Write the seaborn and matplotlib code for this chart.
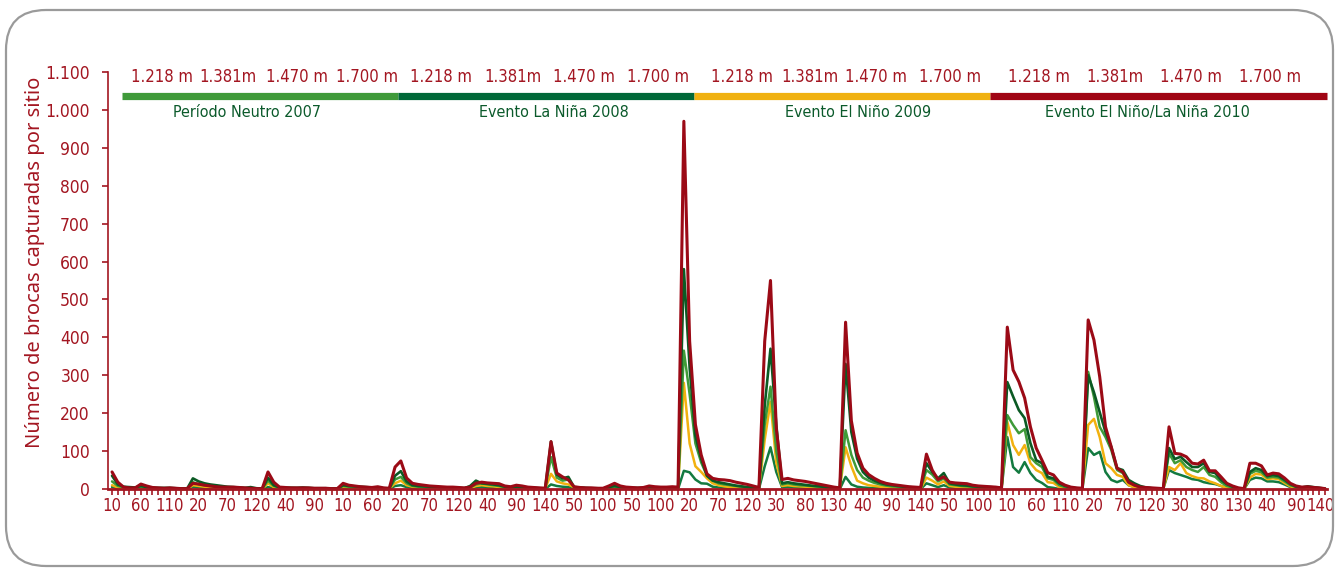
import numpy as np
import pandas as pd
import seaborn as sns
import matplotlib.pyplot as plt
from matplotlib.patches import FancyBboxPatch
from matplotlib.transforms import ScaledTranslation


# puntos por segmento (4 periodos x 4 altitudes), etiquetas 10, 20, ... hasta el ultimo valor
seg_ultimo = [140, 130, 130, 90, 130, 140, 100, 130, 140, 140, 140, 140, 140, 140, 140, 140]

altitudes = ['1.218 m', '1.381m', '1.470 m', '1.700 m']
periodos = ['Período Neutro 2007', 'Evento La Niña 2008', 'Evento El Niño 2009',
            'Evento El Niño/La Niña 2010']

roja = [
    45, 18, 5, 3, 3, 13, 8, 4, 3, 2, 3, 2, 1, 1,
    15, 13, 10, 8, 6, 5, 5, 5, 4, 3, 2, 1, 1,
    45, 18, 5, 4, 3, 3, 3, 3, 2, 2, 2, 1, 1,
    15, 10, 8, 6, 5, 4, 6, 3, 2,
    58, 74, 29, 15, 12, 10, 8, 7, 6, 5, 5, 4, 3,
    5, 15, 18, 16, 15, 14, 8, 6, 10, 8, 5, 4, 3, 2,
    125, 42, 32, 24, 6, 4, 3, 3, 2, 2,
    8, 15, 8, 5, 4, 3, 4, 8, 6, 5, 5, 6, 5,
    970, 390, 170, 90, 40, 28, 25, 24, 22, 18, 15, 12, 8, 4,
    390, 550, 160, 25, 28, 24, 22, 20, 17, 14, 11, 8, 5, 3,
    440, 180, 95, 55, 38, 28, 20, 15, 12, 10, 8, 6, 5, 4,
    92, 50, 25, 32, 18, 16, 15, 14, 10, 8, 7, 6, 5, 3,
    427, 314, 283, 240, 164, 108, 76, 43, 37, 18, 10, 5, 3, 2,
    446, 393, 296, 164, 111, 55, 45, 18, 10, 5, 4, 3, 2, 1,
    164, 94, 92, 85, 68, 66, 76, 48, 48, 32, 15, 8, 3, 1,
    68, 68, 61, 37, 42, 40, 29, 15, 8, 5, 6, 4, 3, 1,
]

verde_oscuro = [
    35, 12, 6, 5, 4, 8, 5, 3, 3, 3, 3, 2, 1, 1,
    28, 20, 15, 12, 10, 8, 6, 5, 4, 3, 5, 2, 1,
    30, 10, 4, 3, 3, 3, 4, 3, 2, 2, 2, 1, 1,
    10, 8, 7, 6, 5, 4, 4, 2, 1,
    35, 47, 20, 10, 8, 7, 6, 5, 4, 4, 3, 3, 2,
    8, 22, 15, 14, 12, 10, 6, 5, 6, 5, 4, 3, 2, 2,
    125, 38, 28, 32, 5, 4, 3, 2, 2, 1,
    5, 8, 5, 4, 3, 3, 3, 5, 4, 3, 3, 4, 3,
    580, 320, 140, 80, 35, 22, 18, 15, 12, 9, 7, 5, 3, 2,
    220, 370, 170, 15, 18, 15, 13, 11, 9, 8, 6, 4, 3, 2,
    330, 150, 80, 45, 30, 22, 16, 12, 10, 8, 6, 5, 4, 3,
    68, 45, 28, 42, 15, 12, 10, 9, 7, 6, 5, 5, 4, 2,
    282, 244, 208, 187, 121, 76, 68, 32, 28, 15, 8, 4, 2, 1,
    300, 255, 203, 150, 111, 55, 50, 24, 15, 8, 4, 2, 1, 1,
    108, 79, 85, 71, 58, 58, 68, 45, 42, 24, 13, 6, 2, 1,
    45, 55, 50, 34, 37, 34, 24, 13, 6, 4, 7, 5, 3, 1,
]

verde_claro = [
    20, 8, 5, 4, 3, 5, 4, 3, 2, 2, 2, 1, 1, 1,
    18, 12, 10, 8, 6, 5, 4, 3, 3, 2, 2, 1, 1,
    22, 8, 4, 3, 3, 2, 2, 2, 2, 1, 1, 1, 1,
    8, 6, 5, 4, 4, 3, 3, 2, 1,
    25, 32, 15, 8, 6, 5, 4, 4, 3, 3, 2, 2, 2,
    4, 12, 15, 12, 10, 8, 5, 4, 4, 4, 3, 2, 2, 1,
    84, 30, 22, 25, 5, 3, 2, 2, 1, 1,
    3, 6, 4, 3, 2, 2, 2, 4, 3, 2, 2, 3, 2,
    365, 250, 120, 70, 35, 22, 15, 12, 10, 8, 6, 4, 3, 2,
    170, 270, 100, 12, 15, 12, 10, 9, 8, 6, 5, 3, 2, 1,
    155, 90, 50, 30, 22, 16, 12, 9, 7, 6, 5, 4, 3, 2,
    50, 38, 20, 28, 12, 10, 8, 7, 6, 5, 4, 4, 3, 2,
    195, 169, 147, 158, 84, 68, 58, 28, 24, 10, 5, 3, 1, 0,
    309, 243, 164, 137, 103, 50, 42, 18, 10, 5, 3, 2, 1, 0,
    94, 68, 76, 58, 50, 45, 58, 37, 32, 18, 8, 4, 2, 0,
    40, 48, 44, 30, 32, 30, 20, 10, 5, 3, 5, 4, 2, 1,
]

amarilla = [
    10, 4, 2, 2, 1, 2, 2, 1, 1, 1, 1, 1, 0, 0,
    10, 8, 6, 5, 4, 3, 3, 2, 2, 1, 1, 1, 0,
    15, 5, 2, 2, 1, 1, 1, 1, 1, 1, 0, 0, 0,
    5, 4, 3, 3, 2, 2, 2, 1, 1,
    15, 22, 10, 6, 4, 3, 3, 2, 2, 2, 1, 1, 1,
    2, 8, 10, 8, 7, 5, 3, 2, 2, 2, 2, 1, 1, 1,
    40, 20, 15, 12, 4, 2, 1, 1, 1, 0,
    2, 4, 3, 2, 1, 1, 1, 2, 2, 1, 1, 2, 1,
    280, 120, 60, 45, 28, 15, 10, 7, 5, 4, 3, 2, 1, 1,
    130, 230, 70, 8, 10, 8, 7, 6, 5, 4, 3, 2, 1, 1,
    110, 60, 22, 15, 10, 8, 6, 5, 4, 3, 2, 2, 1, 1,
    30, 22, 12, 20, 8, 6, 5, 4, 3, 2, 2, 2, 1, 1,
    177, 116, 90, 116, 68, 50, 42, 18, 16, 5, 2, 1, 0, 0,
    169, 185, 137, 68, 55, 37, 32, 10, 5, 3, 2, 1, 0, 0,
    58, 50, 68, 42, 34, 29, 28, 20, 15, 8, 3, 1, 0, 0,
    30, 40, 38, 26, 28, 26, 16, 7, 3, 2, 3, 2, 1, 0,
]

verde = [
    5, 2, 1, 1, 1, 1, 1, 1, 0, 0, 0, 0, 0, 0,
    5, 4, 3, 2, 2, 1, 1, 1, 1, 0, 0, 0, 0,
    5, 2, 1, 1, 0, 0, 0, 0, 0, 0, 0, 0, 0,
    2, 2, 1, 1, 1, 1, 1, 0, 0,
    8, 10, 5, 3, 2, 2, 1, 1, 1, 1, 1, 0, 0,
    1, 4, 5, 4, 3, 2, 1, 1, 1, 1, 1, 0, 0, 0,
    12, 8, 6, 5, 2, 1, 1, 0, 0, 0,
    1, 2, 1, 1, 0, 0, 0, 1, 1, 0, 0, 1, 0,
    48, 44, 25, 15, 14, 6, 4, 3, 2, 1, 1, 0, 0, 0,
    60, 110, 45, 5, 6, 5, 4, 3, 3, 2, 2, 1, 1, 0,
    32, 12, 6, 4, 3, 2, 2, 1, 1, 1, 0, 0, 0, 0,
    15, 10, 5, 10, 4, 3, 2, 2, 1, 1, 1, 0, 0, 0,
    137, 58, 43, 71, 42, 24, 16, 5, 3, 0, 0, 0, 0, 0,
    108, 90, 98, 45, 24, 18, 24, 10, 5, 3, 1, 0, 0, 0,
    50, 42, 37, 32, 26, 24, 18, 15, 13, 8, 3, 0, 0, 0,
    24, 30, 28, 20, 20, 18, 12, 5, 2, 2, 5, 3, 1, 0,
]

etiquetas_x = []
for ult in seg_ultimo:
    etiquetas_x += [str(v) for v in range(10, ult + 1, 10)]
n = len(etiquetas_x)
pos = np.arange(n)

rojo_txt = '#a31621'
verde_txt = '#0b5a2b'

sns.set_style('white')
plt.rcParams['font.family'] = ['DejaVu Sans']
plt.rcParams['font.stretch'] = 'condensed'

fig = plt.figure(figsize=(13.35, 5.68), dpi=100)
ax = fig.add_axes([108 / 1335, 1 - 489 / 568, (1327 - 108) / 1335, (489 - 72) / 568])

# orden de dibujo: la roja queda encima
series = [
    (verde, '#137a40', 1.8),
    (amarilla, '#f2b10f', 1.8),
    (verde_claro, '#3f9a38', 1.8),
    (verde_oscuro, '#0b5a24', 1.9),
    (roja, '#9b0a16', 2.2),
]
for vals, col, lw in series:
    assert len(vals) == n
    sns.lineplot(x=pos, y=vals, color=col, lw=lw, ax=ax, clip_on=False)

ax.set_xlim(-0.7, n - 1 + 0.35)
ax.set_ylim(0, 1100)

yt = np.arange(0, 1101, 100)
ax.set_yticks(yt)
ax.set_yticklabels([f'{v:,}'.replace(',', '.') for v in yt])
ax.set_xticks(pos[::5])
ax.set_xticklabels(etiquetas_x[::5])
ax.set_xticks(pos, minor=True)

ax.tick_params(axis='y', which='major', direction='out', length=4, width=1.2,
               color=rojo_txt, labelcolor=rojo_txt, labelsize=12.5, pad=9, left=True)
ax.tick_params(axis='x', which='both', direction='out', length=4, width=1.2,
               color=rojo_txt, labelcolor=rojo_txt, labelsize=12, pad=2, bottom=True)

# el ultimo "140" queda pegado al borde derecho
ultima = ax.get_xticklabels()[-1]
ultima.set_ha('right')
ultima.set_transform(ultima.get_transform() + ScaledTranslation(0.1, 0, fig.dpi_scale_trans))

for s in ['top', 'right']:
    ax.spines[s].set_visible(False)
ax.spines['left'].set_color(rojo_txt)
ax.spines['left'].set_linewidth(1.2)
ax.spines['bottom'].set_color(rojo_txt)
ax.spines['bottom'].set_linewidth(2)
ax.set_xlabel('')
ax.set_ylabel('')

# cabecera: altitudes, barras de color y nombre de periodo
px = lambda p: (p - 112) / 5.776
alt_x = [162, 228, 297, 367, 441, 513, 584, 658, 742, 810, 876, 950, 1039, 1115, 1191, 1270]
for i, xp in enumerate(alt_x):
    ax.text(px(xp), 1087, altitudes[i % 4], color=rojo_txt, fontsize=12,
            ha='center', va='center')

barras = [(122, 398, '#3f9a3a'), (398, 694, '#006838'), (694, 990, '#f0b111'),
          (990, 1327, '#a00514')]
for x0, x1, col in barras:
    ax.plot([px(x0), px(x1)], [1038, 1038], color=col, lw=5.2, solid_capstyle='butt',
            clip_on=False)

per_x = [247, 554, 858, 1147]
for xp, nombre in zip(per_x, periodos):
    ax.text(px(xp), 992, nombre, color=verde_txt, fontsize=11.5, ha='center', va='center')

fig.text(35 / 1335, 1 - 262 / 568, 'Número de brocas capturadas por sitio', rotation=90,
         color=rojo_txt, fontsize=14.5, ha='center', va='center',
         family=['Noto Sans', 'DejaVu Sans'], stretch='normal')

marco = FancyBboxPatch((6 / 1335, 2 / 568), 1327 / 1335, 556 / 568,
                       boxstyle='round,pad=0,rounding_size=0.03', mutation_aspect=1335 / 568,
                       transform=fig.transFigure, fill=False, ec='#9a9a9a', lw=1.6)
fig.add_artist(marco)

fig.savefig('out.png', dpi=100)
